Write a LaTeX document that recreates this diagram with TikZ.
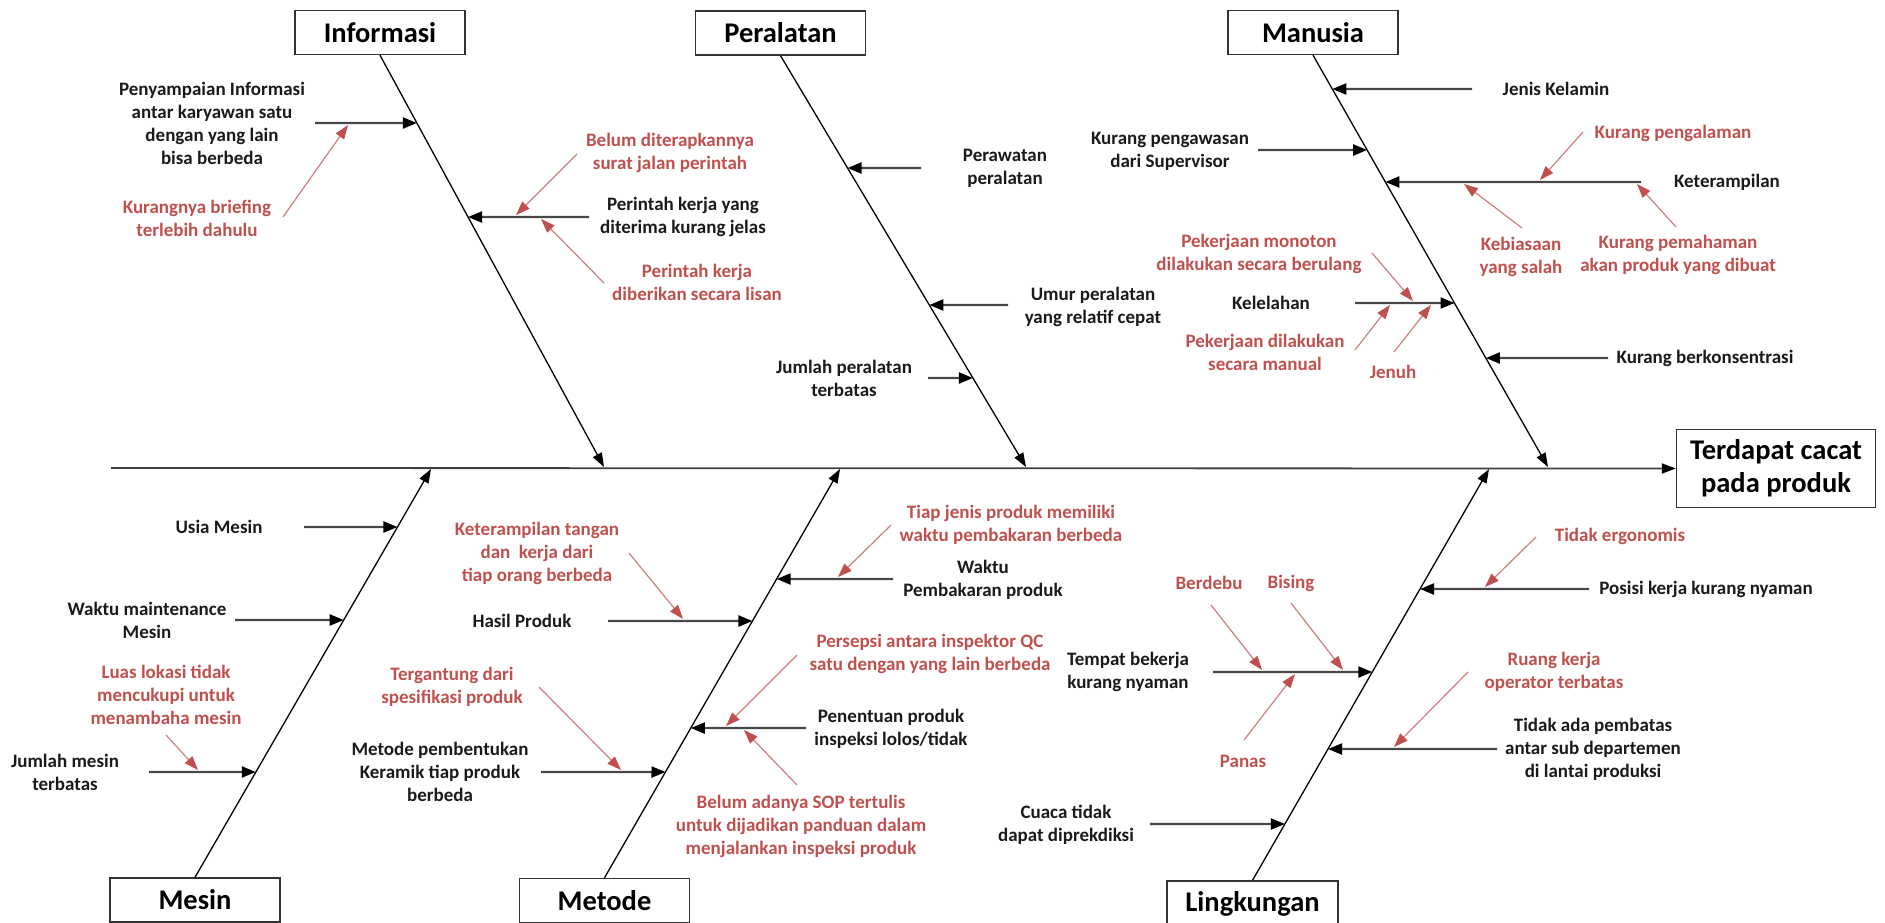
\documentclass[tikz,border=0pt]{standalone}
\usepackage{fontspec}
\setmainfont{Carlito}
\usetikzlibrary{arrows.meta,calc}
\definecolor{causered}{HTML}{C0504D}
\definecolor{causeline}{HTML}{CC7F7D}
\definecolor{ink}{HTML}{1A1A1A}
\begin{document}
\begin{tikzpicture}[x=1pt,y=-1pt,
  cat/.style={draw=black!80,line width=1.4pt,fill=white,minimum width=170pt,minimum height=44pt,inner sep=0pt,font=\fontsize{28.5}{33}\selectfont\bfseries},
  lbl/.style={align=center,inner sep=0pt,text=ink,font=\fontsize{19}{23}\selectfont\bfseries},
  rlbl/.style={lbl,text=causered},
  bone/.style={draw=black,line width=1.3pt,-{Triangle[length=14pt,width=10pt,color=black]}},
  spine/.style={draw=black!75,line width=1.8pt,-{Triangle[length=14pt,width=10pt,color=black]}},
  sub/.style={draw=black!72,line width=2.2pt,-{Triangle[length=14pt,width=11pt,color=black]}},
  why/.style={draw=causeline,line width=1.2pt,-{Triangle[length=14pt,width=10pt,color=causered]}}
]
\useasboundingbox (0,0) rectangle (1885,923);

% ---------- category boxes and effect ----------
\node[cat] (inf) at (380,32.5) {Informasi};
\node[cat] (per) at (780.5,33) {Peralatan};
\node[cat] (man) at (1313,32.5) {Manusia};
\node[cat] (mes) at (195,900) {Mesin};
\node[cat] (met) at (604.5,900.5) {Metode};
\node[cat,minimum width=171pt,minimum height=46pt] (lin) at (1252.5,904) {Lingkungan};
\node[cat,minimum width=199pt,minimum height=78pt,align=center] (eff) at (1776,468.5) {Terdapat cacat\\pada produk};

% ---------- spine ----------
\coordinate (head) at (111,468);
\draw[spine] (head) -- (eff.west);

% ---------- main bones ----------
\coordinate (infS) at (inf.south);
\coordinate (perS) at (per.south);
\coordinate (manS) at (man.south);
\coordinate (mesS) at (mes.north);
\coordinate (metS) at (met.north);
\coordinate (linS) at (lin.north);
\coordinate (infT) at (604,467);
\coordinate (perT) at (1026,467);
\coordinate (manT) at (1548,467);
\coordinate (mesT) at (431,469);
\coordinate (metT) at (840,469);
\coordinate (linT) at (1489,469);
\draw[bone] (infS) -- (infT);
\draw[bone] (perS) -- (perT);
\draw[bone] (manS) -- (manT);
\draw[bone] (mesS) -- (mesT);
\draw[bone] (metS) -- (metT);
\draw[bone] (linS) -- (linT);

% ---------- Informasi ----------
\node[lbl] (n1) at (212,123) {Penyampaian Informasi\\antar karyawan satu\\dengan yang lain\\bisa berbeda};
\node[rlbl] (r1) at (197,218) {Kurangnya briefing\\terlebih dahulu};
\node[lbl] (n2) at (683,216.5) {Perintah kerja yang\\diterima kurang jelas};
\node[rlbl] (r2) at (670,153) {Belum diterapkannya\\surat jalan perintah};
\node[rlbl] (r3) at (697,282.5) {Perintah kerja\\diberikan secara lisan};
\coordinate (a1) at (315,123);
\coordinate (a2) at (589,217);
\draw[sub] (a1) -- (intersection of infS--infT and 0,123--1,123);
\draw[sub] (a2) -- (intersection of infS--infT and 0,217--1,217);
\coordinate (w1) at (283,217); \coordinate (w1t) at (348,125);
\coordinate (w2) at (577,154); \coordinate (w2t) at (516,215);
\coordinate (w3) at (604,283); \coordinate (w3t) at (541,219);
\draw[why] (w1) -- (w1t);
\draw[why] (w2) -- (w2t);
\draw[why] (w3) -- (w3t);

% ---------- Peralatan ----------
\node[lbl] (n3) at (1005,168.5) {Perawatan\\peralatan};
\node[lbl] (n4) at (1093,306.5) {Umur peralatan\\yang relatif cepat};
\node[lbl] (n5) at (844,378) {Jumlah peralatan\\terbatas};
\coordinate (a3) at (921,168);
\coordinate (a4) at (1008,305);
\coordinate (a5) at (928,378);
\draw[sub] (a3) -- (intersection of perS--perT and 0,168--1,168);
\draw[sub] (a4) -- (intersection of perS--perT and 0,305--1,305);
\draw[sub] (a5) -- (intersection of perS--perT and 0,378--1,378);

% ---------- Manusia ----------
\node[lbl] (n6) at (1556,89) {Jenis Kelamin};
\node[lbl] (n7) at (1170,151) {Kurang pengawasan\\dari Supervisor};
\node[lbl] (n8) at (1727,182) {Keterampilan};
\node[rlbl] (r4) at (1673,133) {Kurang pengalaman};
\node[rlbl] (r5) at (1521,257) {Kebiasaan\\yang salah};
\node[rlbl] (r6) at (1678,255) {Kurang pemahaman\\akan produk yang dibuat};
\node[lbl] (n9) at (1271,303) {Kelelahan};
\node[rlbl] (r7) at (1259,254) {Pekerjaan monoton\\dilakukan secara berulang};
\node[rlbl] (r8) at (1265,352) {Pekerjaan dilakukan\\secara manual};
\node[rlbl] (r9) at (1393,372) {Jenuh};
\node[lbl] (n10) at (1705,358) {Kurang berkonsentrasi};
\coordinate (a6) at (1472,89);
\coordinate (a7) at (1258,150);
\coordinate (a8) at (1641,182);
\coordinate (a9) at (1355,303);
\coordinate (a10) at (1608,358);
\draw[sub] (a6) -- (intersection of manS--manT and 0,89--1,89);
\draw[sub] (a7) -- (intersection of manS--manT and 0,150--1,150);
\draw[sub] (a8) -- (intersection of manS--manT and 0,182--1,182);
\draw[sub] (a9) -- (intersection of manS--manT and 0,303--1,303);
\draw[sub] (a10) -- (intersection of manS--manT and 0,358--1,358);
\coordinate (w4) at (1583,132); \coordinate (w4t) at (1540,180);
\coordinate (w5) at (1522,228); \coordinate (w5t) at (1464,184);
\coordinate (w6) at (1676,227); \coordinate (w6t) at (1637,184);
\coordinate (w7) at (1372,253); \coordinate (w7t) at (1413,301);
\coordinate (w8) at (1355,350); \coordinate (w8t) at (1390,305);
\coordinate (w9) at (1394,352); \coordinate (w9t) at (1431,305);
\draw[why] (w4) -- (w4t);
\draw[why] (w5) -- (w5t);
\draw[why] (w6) -- (w6t);
\draw[why] (w7) -- (w7t);
\draw[why] (w8) -- (w8t);
\draw[why] (w9) -- (w9t);

% ---------- Mesin ----------
\node[lbl] (n11) at (219,527) {Usia Mesin};
\node[lbl] (n12) at (147,620.5) {Waktu maintenance\\Mesin};
\node[rlbl] (r10) at (166,695) {Luas lokasi tidak\\mencukupi untuk\\menambaha mesin};
\node[lbl] (n13) at (65,772) {Jumlah mesin\\terbatas};
\coordinate (a11) at (304,527);
\coordinate (a12) at (235,620);
\coordinate (a13) at (149,772);
\draw[sub] (a11) -- (intersection of mesS--mesT and 0,527--1,527);
\draw[sub] (a12) -- (intersection of mesS--mesT and 0,620--1,620);
\draw[sub] (a13) -- (intersection of mesS--mesT and 0,772--1,772);
\coordinate (w10) at (166,735); \coordinate (w10t) at (198,770);
\draw[why] (w10) -- (w10t);

% ---------- Metode ----------
\node[rlbl] (r11) at (537,553) {Keterampilan tangan\\dan\ \ kerja dari\\tiap orang berbeda};
\node[lbl] (n14) at (522,621) {Hasil Produk};
\node[rlbl] (r12) at (1011,524.5) {Tiap jenis produk memiliki\\waktu pembakaran berbeda};
\node[lbl] (n15) at (983,580) {Waktu\\Pembakaran produk};
\node[rlbl] (r13) at (452,686.5) {Tergantung dari\\spesifikasi produk};
\node[lbl] (n16) at (440,772) {Metode pembentukan\\Keramik tiap produk\\berbeda};
\node[rlbl] (r14) at (930,653.5) {Persepsi antara inspektor QC\\satu dengan yang lain berbeda};
\node[lbl] (n17) at (891,728.5) {Penentuan produk\\inspeksi lolos/tidak};
\node[rlbl] (r15) at (801,826) {Belum adanya SOP tertulis\\untuk dijadikan panduan dalam\\menjalankan inspeksi produk};
\coordinate (a14) at (608,621);
\coordinate (a15) at (893,579);
\coordinate (a16) at (541,772);
\coordinate (a17) at (806,728);
\draw[sub] (a14) -- (intersection of metS--metT and 0,621--1,621);
\draw[sub] (a15) -- (intersection of metS--metT and 0,579--1,579);
\draw[sub] (a16) -- (intersection of metS--metT and 0,772--1,772);
\draw[sub] (a17) -- (intersection of metS--metT and 0,728--1,728);
\coordinate (w11) at (629,553); \coordinate (w11t) at (683,619);
\coordinate (w12) at (891,525); \coordinate (w12t) at (838,577);
\coordinate (w13) at (539,687); \coordinate (w13t) at (621,770);
\coordinate (w14) at (797,655); \coordinate (w14t) at (726,726);
\coordinate (w15) at (797,785); \coordinate (w15t) at (744,730);
\draw[why] (w11) -- (w11t);
\draw[why] (w12) -- (w12t);
\draw[why] (w13) -- (w13t);
\draw[why] (w14) -- (w14t);
\draw[why] (w15) -- (w15t);

% ---------- Lingkungan ----------
\node[rlbl] (r16) at (1620,536) {Tidak ergonomis};
\node[lbl] (n18) at (1706,589) {Posisi kerja kurang nyaman};
\node[lbl] (n19) at (1128,672) {Tempat bekerja\\kurang nyaman};
\node[rlbl] (r17) at (1209,583) {Berdebu};
\node[rlbl] (r18) at (1291,583) {Bising};
\node[rlbl] (r19) at (1243,761) {Panas};
\node[rlbl] (r20) at (1554,672) {Ruang kerja\\operator terbatas};
\node[lbl] (n20) at (1593,749) {Tidak ada pembatas\\antar sub departemen\\di lantai produksi};
\node[lbl] (n21) at (1066,824.5) {Cuaca tidak\\dapat diprekdiksi};
\coordinate (a18) at (1589,589);
\coordinate (a19) at (1213,672);
\coordinate (a20) at (1497,749);
\coordinate (a21) at (1150,824);
\draw[sub] (a18) -- (intersection of linS--linT and 0,589--1,589);
\draw[sub] (a19) -- (intersection of linS--linT and 0,672--1,672);
\draw[sub] (a20) -- (intersection of linS--linT and 0,749--1,749);
\draw[sub] (a21) -- (intersection of linS--linT and 0,824--1,824);
\coordinate (w16) at (1536,537); \coordinate (w16t) at (1485,587);
\coordinate (w17) at (1211,605); \coordinate (w17t) at (1262,670);
\coordinate (w18) at (1291,603); \coordinate (w18t) at (1343,670);
\coordinate (w19) at (1244,740); \coordinate (w19t) at (1295,674);
\coordinate (w20) at (1468,672); \coordinate (w20t) at (1394,747);
\draw[why] (w16) -- (w16t);
\draw[why] (w17) -- (w17t);
\draw[why] (w18) -- (w18t);
\draw[why] (w19) -- (w19t);
\draw[why] (w20) -- (w20t);
\end{tikzpicture}
\end{document}
